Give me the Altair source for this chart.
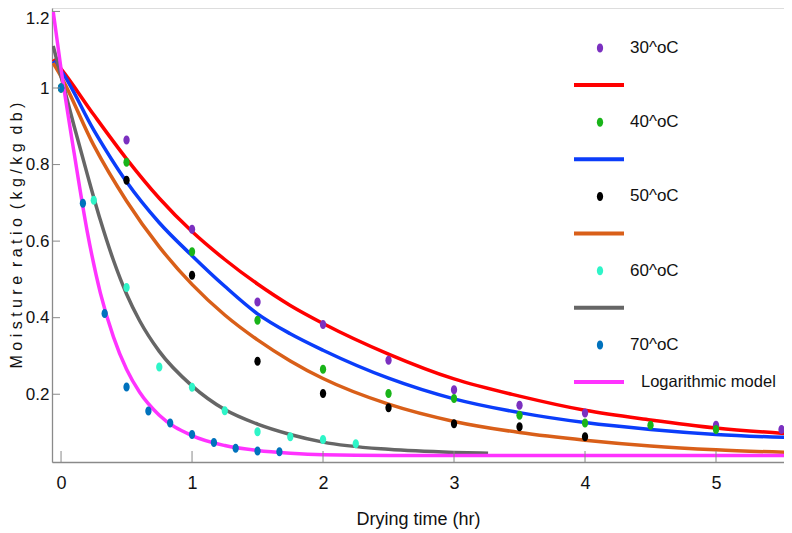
import altair as alt
import pandas as pd

FONT = "Liberation Sans, Arial, sans-serif"

# ---------------- observed data (dots) ----------------
t30 = [0, 0.5, 1.0, 1.5, 2.0, 2.5, 3.0, 3.5, 4.0, 5.0, 5.5]
mr30 = [1.0, 0.864, 0.631, 0.441, 0.382, 0.289, 0.212, 0.171, 0.151, 0.119, 0.108]
t40 = [0, 0.5, 1.0, 1.5, 2.0, 2.5, 3.0, 3.5, 4.0, 4.5, 5.0]
mr40 = [1.0, 0.806, 0.572, 0.393, 0.265, 0.202, 0.189, 0.145, 0.125, 0.119, 0.108]
t50 = [0, 0.5, 1.0, 1.5, 2.0, 2.5, 3.0, 3.5, 4.0]
mr50 = [1.0, 0.759, 0.511, 0.286, 0.202, 0.165, 0.123, 0.115, 0.089]
t60 = [0, 0.25, 0.5, 0.75, 1.0, 1.25, 1.5, 1.75, 2.0, 2.25]
mr60 = [1.0, 0.707, 0.479, 0.271, 0.218, 0.157, 0.102, 0.089, 0.082, 0.071]
t70 = [0, 0.167, 0.333, 0.5, 0.667, 0.833, 1.0, 1.167, 1.333, 1.5, 1.667]
mr70 = [1.0, 0.699, 0.411, 0.219, 0.156, 0.125, 0.095, 0.074, 0.059, 0.052, 0.050]

# ---------------- model curves ----------------
tfit = [-0.06, 0, 0.25, 0.5, 0.75, 1.0, 1.25, 1.5, 1.75, 2.0, 2.5, 3.0, 3.5, 4.0, 4.5, 5.0, 5.55]
fit30 = [1.075, 1.05, 0.93, 0.815, 0.712, 0.625, 0.552, 0.488, 0.432, 0.385, 0.305, 0.24, 0.195, 0.158, 0.133, 0.112, 0.097]
fit40 = [1.07, 1.045, 0.89, 0.755, 0.648, 0.562, 0.482, 0.41, 0.358, 0.315, 0.242, 0.188, 0.152, 0.126, 0.108, 0.095, 0.087]
fit50 = [1.065, 1.03, 0.85, 0.705, 0.585, 0.487, 0.407, 0.342, 0.287, 0.241, 0.174, 0.129, 0.1, 0.08, 0.065, 0.055, 0.048]
tfit60 = [-0.06, 0, 0.1, 0.2, 0.3, 0.4, 0.5, 0.6, 0.75, 1.0, 1.25, 1.5, 1.75, 2.0, 2.5, 3.0, 3.26]
fit60 = [1.11, 1.03, 0.9, 0.775, 0.655, 0.55, 0.462, 0.392, 0.312, 0.222, 0.16, 0.122, 0.095, 0.075, 0.056, 0.048, 0.046]
tfit70 = [-0.06, 0, 0.1, 0.2, 0.3, 0.4, 0.5, 0.6, 0.75, 1.0, 1.25, 1.5, 1.75, 2.0, 2.5, 3.5, 4.5, 5.56]
fit70 = [1.2, 1.05, 0.83, 0.625, 0.465, 0.35, 0.265, 0.205, 0.145, 0.092, 0.066, 0.053, 0.046, 0.042, 0.04, 0.04, 0.04, 0.04]

dot_labels = ["30^oC", "40^oC", "50^oC", "60^oC", "70^oC"]
dot_colors = ["#7b30c0", "#19b419", "#000000", "#2ef5c8", "#0072bd"]
line_colors = ["#ff0000", "#0b3dfa", "#d95f19", "#666666", "#ff33ff"]
model_label = "Logarithmic model"

x_ticks = [0, 1, 2, 3, 4, 5]
y_ticks = [0.2, 0.4, 0.6, 0.8, 1.0, 1.2]

W, H = 732, 454
XDOM = [-0.069, 5.519]
YDOM = [0.023, 1.209]

ELLIPSE = "M 0 -1 A 0.7 1 0 1 1 0 1 A 0.7 1 0 1 1 0 -1 Z"

xs = alt.Scale(domain=XDOM, nice=False, zero=False)
ys = alt.Scale(domain=YDOM, nice=False, zero=False)

x_axis = alt.Axis(values=x_ticks, format="d", ticks=False, grid=False,
                  domainColor="#8a8a8a", domainWidth=1.3,
                  labelFont=FONT, labelFontSize=18, labelColor="#111", labelPadding=12,
                  title="Drying time (hr)", titleFont=FONT, titleFontSize=18,
                  titleFontWeight="normal", titleColor="#111", titlePadding=18)
y_title = "M o i s t u r e \u00a0r a t i o \u00a0( k g / k g \u00a0d b )"
y_axis = alt.Axis(values=y_ticks, format=".1~f", ticks=False, grid=False,
                  domainColor="#8a8a8a", domainWidth=1.3,
                  labelFont=FONT, labelFontSize=17, labelColor="#111", labelPadding=3,
                  labelFlush=5, labelFlushOffset=1,
                  title=y_title, titleFont=FONT, titleFontSize=16,
                  titleFontWeight="normal", titleColor="#111", titlePadding=1)

X = alt.X("t:Q", scale=xs, axis=x_axis, title="Drying time (hr)")
Y = alt.Y("mr:Q", scale=ys, axis=y_axis, title=y_title)

# dots table
dot_rows = []
for lab, col, tt, vv in zip(dot_labels, dot_colors, [t30, t40, t50, t60, t70],
                            [mr30, mr40, mr50, mr60, mr70]):
    for a, b in zip(tt, vv):
        dot_rows.append({"series": lab, "t": a, "mr": b, "color": col})
dots_df = pd.DataFrame(dot_rows)

fits = [(tfit, fit30), (tfit, fit40), (tfit, fit50), (tfit60, fit60), (tfit70, fit70)]

layers = []
for (tt, vv), col in zip(fits, line_colors):
    df = pd.DataFrame({"t": tt, "mr": vv})
    ln = alt.Chart(df).mark_line(color=col, strokeWidth=3.5, interpolate="monotone", clip=True).encode(
        x=X, y=Y)
    layers.append(ln)

pts = alt.Chart(dots_df).mark_point(shape=ELLIPSE, filled=True, size=81, opacity=1).encode(
    x=X, y=Y, color=alt.Color("color:N", scale=None))
layers.append(pts)

# inward tick marks
xt = alt.Chart(pd.DataFrame({"t": x_ticks})).mark_rule(color="#8a8a8a", strokeWidth=1).encode(
    x=X, y=alt.value(H - 11), y2=alt.value(H))
yt = alt.Chart(pd.DataFrame({"mr": y_ticks})).mark_rule(color="#8a8a8a", strokeWidth=1).encode(
    y=Y, x=alt.value(0), x2=alt.value(8))
layers += [xt, yt]

main = alt.layer(*layers)

# ---------------- legend ----------------
leg_entries = []
for i in range(5):
    leg_entries.append({"row": 2 * i, "kind": "dot", "label": dot_labels[i], "color": dot_colors[i]})
    leg_entries.append({"row": 2 * i + 1, "kind": "line",
                        "label": model_label if i == 4 else "", "color": line_colors[i]})
leg_df = pd.DataFrame(leg_entries)
rows = list(range(10))
ly = alt.Y("row:O", scale=alt.Scale(type="point", domain=rows, range=[40, 374], padding=0), axis=None)

LX = 52  # page x of plot left
leg_dot = alt.Chart(leg_df).transform_filter(alt.datum.kind == "dot").mark_point(
    shape=ELLIPSE, filled=True, size=81, opacity=1).encode(
    x=alt.value(600 - LX), y=ly, color=alt.Color("color:N", scale=None))
leg_line = alt.Chart(leg_df).transform_filter(alt.datum.kind == "line").mark_rule(
    strokeWidth=4).encode(
    x=alt.value(574 - LX), x2=alt.value(624 - LX), y=ly, color=alt.Color("color:N", scale=None))
leg_txt = alt.Chart(leg_df).transform_filter(alt.datum.kind == "dot").mark_text(
    align="left", baseline="middle", font=FONT, fontSize=17, color="#111").encode(
    x=alt.value(630 - LX), y=ly, text="label:N")
leg_txt2 = alt.Chart(leg_df).transform_filter(alt.datum.label == model_label).mark_text(
    align="left", baseline="middle", font=FONT, fontSize=16.5, color="#111").encode(
    x=alt.value(641 - LX), y=ly, text="label:N")
legend = alt.layer(leg_dot, leg_line, leg_txt, leg_txt2)

chart = alt.layer(main, legend).resolve_scale(y="independent", color="independent").properties(
    width=W, height=H,
    autosize=alt.AutoSizeParams(type="none"),
    padding={"left": 44, "top": 0, "right": 0, "bottom": 68}
).configure_view(stroke=None).configure(background="white")

chart.save("out.html", embed_options={"renderer": "svg", "actions": False})
